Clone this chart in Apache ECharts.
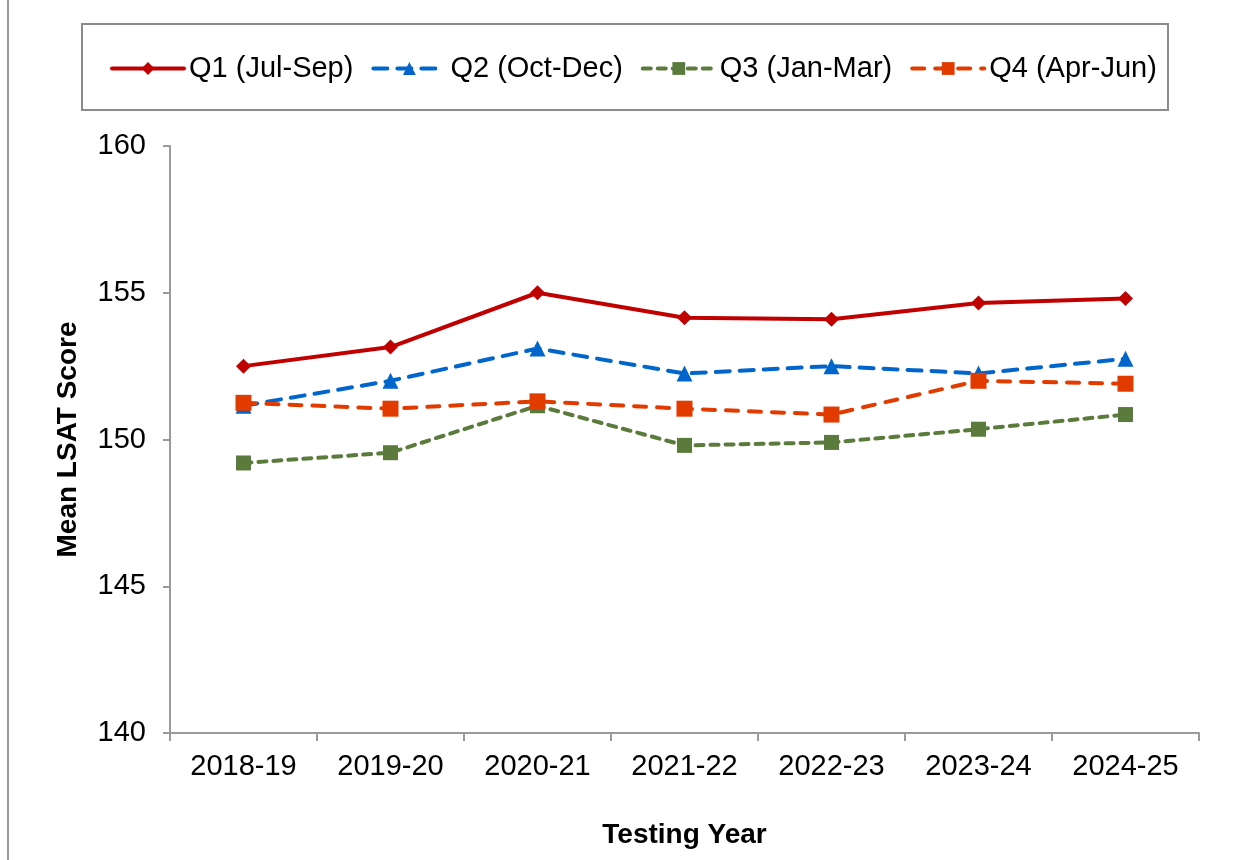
<!DOCTYPE html>
<html>
<head>
<meta charset="utf-8">
<script src="https://cdn.jsdelivr.net/npm/echarts@6/dist/echarts.min.js"></script>
<style>
html,body{margin:0;padding:0;background:#fff;}
#chart{width:1239px;height:860px;}
</style>
</head>
<body>
<div id="chart"></div>
<script>
var categories = ['2018-19','2019-20','2020-21','2021-22','2022-23','2023-24','2024-25'];
var seriesNames = ['Q1 (Jul-Sep)','Q2 (Oct-Dec)','Q3 (Jan-Mar)','Q4 (Apr-Jun)'];
var q1 = [152.5, 153.15, 155.0, 154.15, 154.1, 154.65, 154.8];
var q2 = [151.15, 152.0, 153.1, 152.25, 152.5, 152.25, 152.75];
var q3 = [149.2, 149.55, 151.15, 149.8, 149.9, 150.35, 150.85];
var q4 = [151.25, 151.05, 151.3, 151.05, 150.85, 152.0, 151.9];
var yTicks = [140, 145, 150, 155, 160];

var FONT = '"Liberation Sans", Arial, sans-serif';
var chart = echarts.init(document.getElementById('chart'));

function mk(name, data, color, symbol, size, type) {
  return {
    name: name, type: 'line', data: data,
    symbol: symbol, symbolSize: size,
    itemStyle: {color: color},
    lineStyle: {color: color, width: 4, type: type, cap: 'round'},
    z: 2
  };
}

chart.setOption({
  animation: false,
  backgroundColor: '#fff',
  textStyle: {fontFamily: FONT},
  graphic: [
    {type: 'line', shape: {x1: 8, y1: 0, x2: 8, y2: 860}, style: {stroke: '#9a9a9a', lineWidth: 2}},
    {type: 'rect', shape: {x: 82, y: 24, width: 1086, height: 86}, style: {fill: 'none', stroke: '#8c8c8c', lineWidth: 2}}
  ],
  legend: {
    left: 105, top: 49,
    itemWidth: 72, itemHeight: 16, itemGap: 18,
    lineStyle: {width: 4},
    textStyle: {fontSize: 29, color: '#000', fontFamily: FONT},
    data: seriesNames
  },
  grid: {left: 170, right: 40, top: 146, bottom: 127},
  xAxis: {
    type: 'category', data: categories, boundaryGap: true,
    axisLine: {lineStyle: {color: '#9a9a9a', width: 2}},
    axisTick: {show: true, length: 8, lineStyle: {color: '#9a9a9a', width: 2}},
    axisLabel: {fontSize: 29, color: '#000', margin: 19, fontFamily: FONT},
    name: 'Testing Year', nameLocation: 'middle', nameGap: 88,
    nameTextStyle: {fontSize: 28, fontWeight: 'bold', color: '#000', fontFamily: FONT}
  },
  yAxis: {
    type: 'value', min: yTicks[0], max: yTicks[yTicks.length - 1], interval: 5,
    splitLine: {show: false},
    axisLine: {show: true, lineStyle: {color: '#9a9a9a', width: 2}},
    axisTick: {show: true, length: 7, lineStyle: {color: '#9a9a9a', width: 2}},
    axisLabel: {fontSize: 29, color: '#000', margin: 24, fontFamily: FONT},
    name: 'Mean LSAT Score', nameLocation: 'middle', nameGap: 88, nameRotate: 90,
    nameTextStyle: {fontSize: 28, fontWeight: 'bold', color: '#000', fontFamily: FONT}
  },
  series: [
    mk(seriesNames[0], q1, '#C00000', 'diamond', 15, 'solid'),
    mk(seriesNames[1], q2, '#0066CC', 'triangle', 16, [14, 10]),
    mk(seriesNames[2], q3, '#5B7B3C', 'rect', 15, [8, 7]),
    mk(seriesNames[3], q4, '#E23B00', 'rect', 16, [12, 11])
  ]
});
</script>
</body>
</html>
